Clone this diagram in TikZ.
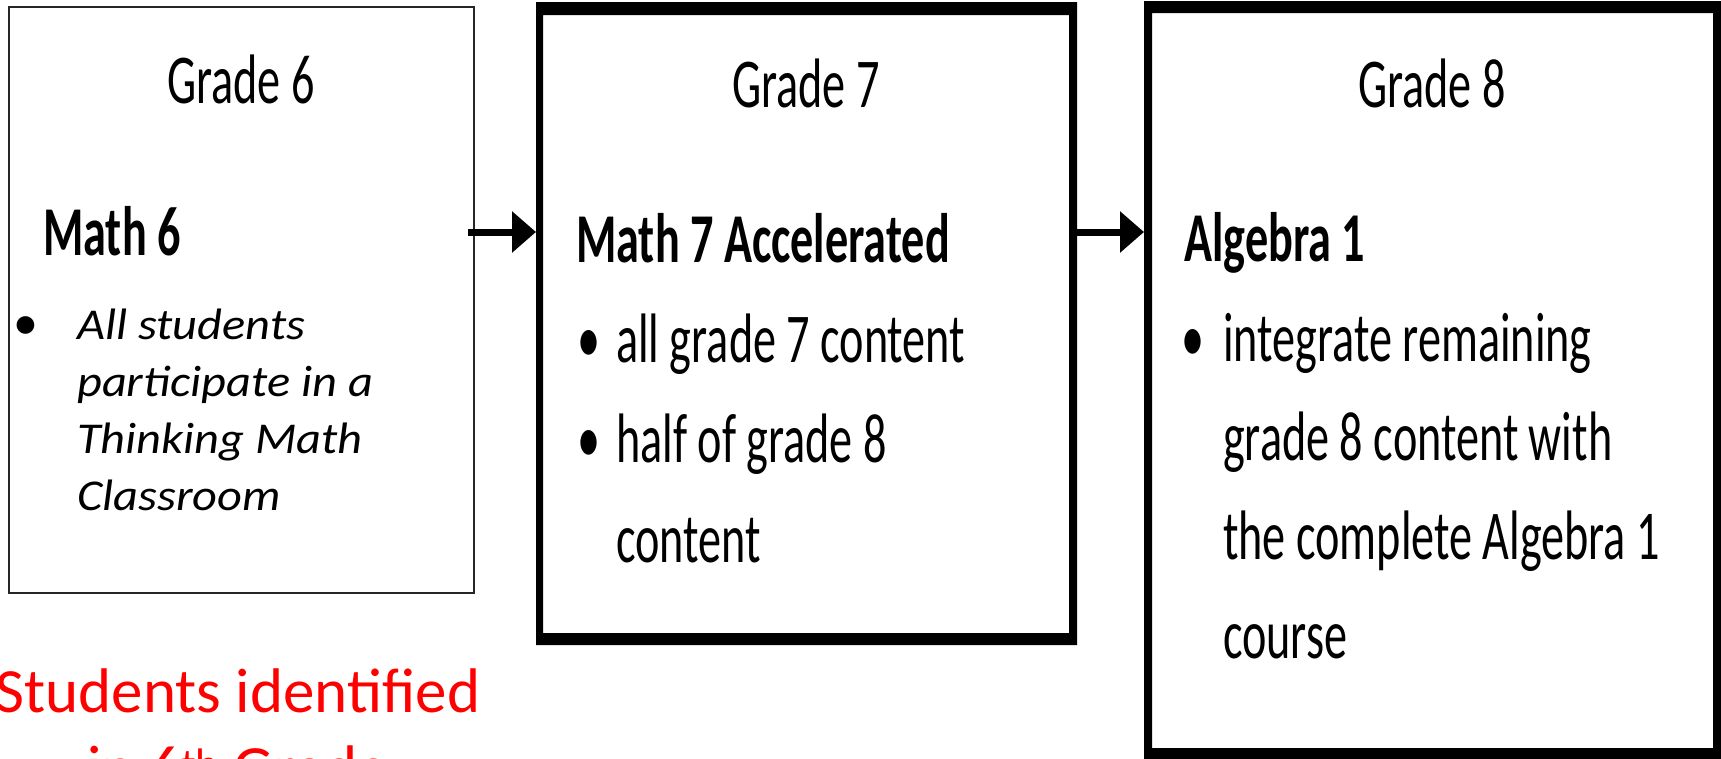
\documentclass[tikz,border=0pt]{standalone}
\usepackage{fontspec}
\setmainfont{Carlito}
\usetikzlibrary{arrows.meta}
\newcommand\cond[1]{\scalebox{0.66}[1]{#1}}
\newcommand\wide[1]{\scalebox{1.1}[1]{#1}}
\newcommand\bfs{\fontsize{70}{84}\selectfont}
\newcommand\hfs{\fontsize{44}{53}\selectfont}
\newcommand\rfs{\fontsize{63}{77}\selectfont}
\definecolor{redtxt}{RGB}{255,0,0}
\begin{document}
\begin{tikzpicture}[x=1pt,y=1pt,
  lbl/.style={inner sep=0pt, anchor=base west, font=\bfs},
  blbl/.style={inner sep=0pt, anchor=base west, font=\bfs\bfseries},
  clbl/.style={inner sep=0pt, anchor=base, font=\bfs},
  hand/.style={inner sep=0pt, anchor=base west, font=\hfs\itshape},
  redlbl/.style={inner sep=0pt, anchor=base, font=\rfs, text=redtxt},
  frame/.style={fill=black, even odd rule},
  arr/.style={line width=7pt, -{Triangle[length=24pt,width=40pt]}},
  area/.style={inner sep=0pt, outer sep=0pt, draw=none, anchor=north west}
]
\useasboundingbox (0,0) rectangle (1721,-758);
\fill[white] (0,0) rectangle (1721,-758);
\clip (0,0) rectangle (1721,-758);

% boxes
\node[area, minimum width=465pt, minimum height=586pt] (b1) at (9,-7) {};
\draw[line width=2.5pt, black!85] (b1.north west) rectangle (b1.south east);

\node[area, minimum width=541pt, minimum height=643pt] (b2) at (536,-2) {};
\fill[frame] (b2.north west) rectangle (b2.south east)
  ([shift={(7,-13)}]b2.north west) rectangle ([shift={(-8,12)}]b2.south east);

\node[area, minimum width=577pt, minimum height=762pt] (b3) at (1144,-1) {};
\fill[frame] (b3.north west) rectangle (b3.south east)
  ([shift={(8,-12)}]b3.north west) rectangle ([shift={(-8,15)}]b3.south east);

% arrows
\coordinate (a1) at (468,-232);
\draw[arr] (a1) -- (a1 -| b2.west);
\draw[arr] (b2.east |- a1) -- (b3.west |- a1);

% box 1 text
\node[clbl] (g6) at (241,-103) {\cond{Grade 6}};
\node[blbl] (m6) at (43,-255) {\cond{Math 6}};
\node[inner sep=0pt, anchor=base west, font=\fontsize{50}{60}\selectfont] (bu0) at (13,-339) {\textbullet};
\node[hand] (h1) at (77,-339) {\wide{All students}};
\node[hand] (h2) at (77,-396) {\wide{participate in a}};
\node[hand] (h3) at (77,-453) {\wide{Thinking Math}};
\node[hand] (h4) at (77,-510) {\wide{Classroom}};

% box 2 text
\node[clbl] (g7) at (806,-107) {\cond{Grade 7}};
\node[blbl] (m7) at (576,-262) {\cond{Math 7 Accelerated}};
\node[lbl] (bu1) at (577,-362) {\cond{\textbullet}};
\node[lbl] (t1) at (616,-362) {\cond{all grade 7 content}};
\node[lbl] (bu2) at (577,-462) {\cond{\textbullet}};
\node[lbl] (t2) at (616,-462) {\cond{half of grade 8}};
\node[lbl] (t3) at (616,-562) {\cond{content}};

% box 3 text
\node[clbl] (g8) at (1432,-107) {\cond{Grade 8}};
\node[blbl] (al) at (1184,-261) {\cond{Algebra 1}};
\node[lbl] (bu3) at (1181,-361) {\cond{\textbullet}};
\node[lbl] (s1) at (1223,-361) {\cond{integrate remaining}};
\node[lbl] (s2) at (1223,-460) {\cond{grade 8 content with}};
\node[lbl] (s3) at (1223,-559) {\cond{the complete Algebra 1}};
\node[lbl] (s4) at (1223,-658) {\cond{course}};

% red note
\node[redlbl] (r1) at (238,-712) {Students identified};
\node[redlbl] (r2) at (238,-789) {in 6\textsuperscript{th} Grade};
\end{tikzpicture}
\end{document}
